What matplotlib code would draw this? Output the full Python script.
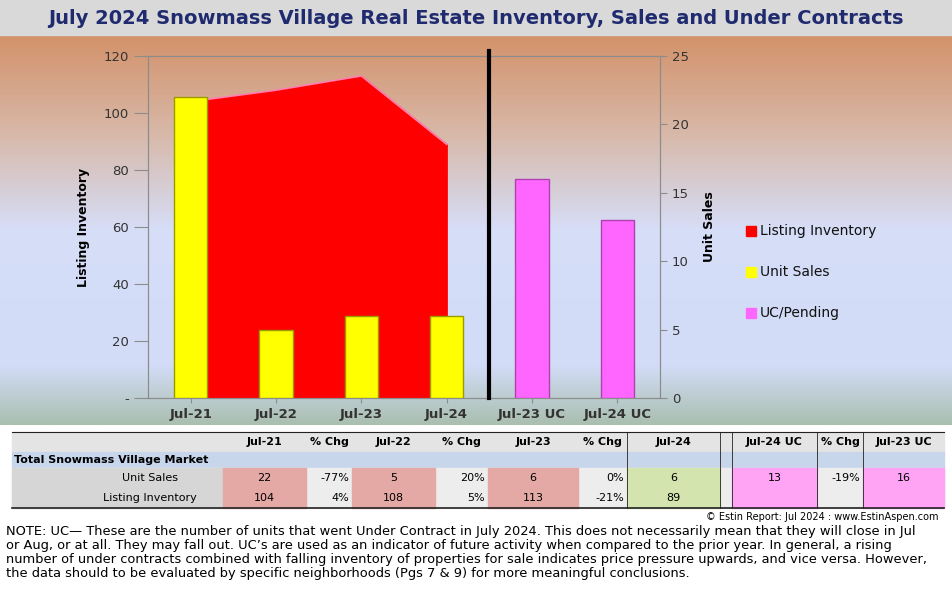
import matplotlib
matplotlib.use("Agg")
import matplotlib.pyplot as plt
import matplotlib.patches as mpatches
import numpy as np
from matplotlib.colors import LinearSegmentedColormap

# ── 데이터 ────────────────────────────────────────────────
categories = ["Jul-21", "Jul-22", "Jul-23", "Jul-24", "Jul-23 UC", "Jul-24 UC"]
inventory = [104, 108, 113, 89]
unit_sales = [22, 5, 6, 6]
uc_pending = [16, 13]

table_header = ["Jul-21", "% Chg", "Jul-22", "% Chg", "Jul-23", "% Chg", "Jul-24",
                "Jul-24 UC", "% Chg", "Jul-23 UC"]
row_sales = ["22", "-77%", "5", "20%", "6", "0%", "6", "13", "-19%", "16"]
row_inv = ["104", "4%", "108", "5%", "113", "-21%", "89", "", "", ""]

NOTE = ("NOTE: UC\u2014 These are the number of units that went Under Contract in July 2024. This does not necessarily mean that they will close in Jul\n"
        "or Aug, or at all. They may fall out. UC\u2019s are used as an indicator of future activity when compared to the prior year. In general, a rising\n"
        "number of under contracts combined with falling inventory of properties for sale indicates price pressure upwards, and vice versa. However,\n"
        "the data should to be evaluated by specific neighborhoods (Pgs 7 & 9) for more meaningful conclusions.")

W, H = 952, 591
fig = plt.figure(figsize=(W / 100, H / 100), dpi=100)
bg = fig.add_axes([0, 0, 1, 1])
bg.set_xlim(0, W)
bg.set_ylim(H, 0)
bg.axis("off")

# 배경 그라데이션
cmap = LinearSegmentedColormap.from_list(
    "bg", [(0, "#D3926A"), (0.25, "#D8B8A8"), (0.5, "#D6DEF8"), (0.85, "#D2DCF6"), (1.0, "#A9BFAF")])
grad = np.linspace(0, 1, 256).reshape(-1, 1)
bg.imshow(grad, cmap=cmap, aspect="auto", extent=[0, W, 425, 35], zorder=0)

# 제목 밴드
bg.add_patch(mpatches.Rectangle((0, 0), W, 35, color="#D9D9D9", zorder=1))
bg.text(W / 2, 18, "July 2024 Snowmass Village Real Estate Inventory, Sales and Under Contracts",
        ha="center", va="center", fontsize=14, fontweight="bold", color="#1F2B6E", zorder=2)

# ── 차트 ─────────────────────────────────────────────────
ax = fig.add_axes([148 / W, (H - 398) / H, 512 / W, 342 / H])
ax.patch.set_alpha(0)
x = np.arange(len(categories))
ax.fill_between(x[:len(inventory)], inventory, color="#FF0000", zorder=2)
ax.plot(x[:len(inventory)], inventory, color="#FF80B0", lw=1.2, zorder=3)
ax.set_xlim(-0.5, len(categories) - 0.5)
ax.set_ylim(0, 120)
ax.set_yticks(range(0, 121, 20))
ax.set_yticklabels(["-"] + [str(v) for v in range(20, 121, 20)])
ax.set_xticks(x)
ax.set_xticklabels(categories, fontweight="bold")
ax.set_ylabel("Listing Inventory", fontweight="bold", fontsize=9, labelpad=10)
ax.tick_params(axis="y", length=10)

ax2 = ax.twinx()
ax2.bar(x[:len(unit_sales)], unit_sales, width=0.39, color="#FFFF00",
        edgecolor="#9A9A00", lw=1, zorder=4)
ax2.bar(x[len(unit_sales):], uc_pending, width=0.39, color="#FF66FF",
        edgecolor="#B040B0", lw=1, zorder=4)
ax2.set_ylim(0, 25)
ax2.set_yticks(range(0, 26, 5))
ax2.set_ylabel("Unit Sales", fontweight="bold", fontsize=9, labelpad=10)
ax2.axvline(3.5, ymin=0, ymax=1.015, color="black", lw=3, clip_on=False, zorder=5)

for a in (ax, ax2):
    a.tick_params(labelsize=9.5, colors="#333333")
    a.tick_params(axis="both", color="#8C8C8C")
    for s in a.spines.values():
        s.set_color("#8C8C8C")
ax.tick_params(axis="y", length=10)
ax2.tick_params(axis="y", length=5)

# 범례
legend_items = [("Listing Inventory", "#FF0000"), ("Unit Sales", "#FFFF00"), ("UC/Pending", "#FF66FF")]
for i, (lbl, col) in enumerate(legend_items):
    y = 231 + i * 41
    bg.add_patch(mpatches.Rectangle((746, y - 5), 10, 10, color=col, zorder=3))
    bg.text(760, y, lbl, va="center", fontsize=10, color="#111111", zorder=3)

# ── 표 ───────────────────────────────────────────────────
col_edges = [12, 223, 306, 352, 435, 488, 578, 627, 720, 732, 817, 863, 944]
data_cols = [1, 2, 3, 4, 5, 6, 7, 9, 10, 11]
fs = 8

bg.add_patch(mpatches.Rectangle((12, 432), 932, 20, color="#E4E4E4", zorder=1))
bg.add_patch(mpatches.Rectangle((12, 452), 932, 16, color="#C8D6EC", zorder=1))
bg.add_patch(mpatches.Rectangle((12, 468), 932, 40, color="#EDEDED", zorder=1))
bg.add_patch(mpatches.Rectangle((12, 468), 211, 40, color="#D6D6D6", zorder=1))

fills = {1: "#E4A9A5", 3: "#E4A9A5", 5: "#E4A9A5", 7: "#D4E4AE",
         9: "#FFA4F4", 11: "#FFA4F4"}
for ci, tv, sv, iv in zip(data_cols, table_header, row_sales, row_inv):
    x0, x1 = col_edges[ci], col_edges[ci + 1]
    cx = (x0 + x1) / 2
    if ci in fills:
        bg.add_patch(mpatches.Rectangle((x0, 468), x1 - x0, 40, color=fills[ci], zorder=1.5))
    bg.text(cx, 442, tv, ha="center", va="center", fontsize=fs, fontweight="bold", zorder=3)
    if ci in fills:
        tx, ha = cx, "center"
    else:
        tx, ha = x1 - 3, "right"
    bg.text(tx, 478, sv, ha=ha, va="center", fontsize=fs, zorder=3)
    bg.text(tx, 498, iv, ha=ha, va="center", fontsize=fs, zorder=3)

for xe in (627, 720, 732, 817, 863):
    bg.plot([xe, xe], [432, 508], color="#222222", lw=0.6, zorder=2)
bg.plot([12, 944], [432, 432], color="#222222", lw=0.8, zorder=2)
bg.plot([12, 944], [508, 508], color="#222222", lw=1.2, zorder=2)

bg.text(14, 460, "Total Snowmass Village Market", va="center", fontsize=fs, fontweight="bold", zorder=3)
bg.text(150, 478, "Unit Sales", ha="center", va="center", fontsize=fs, zorder=3)
bg.text(150, 498, "Listing Inventory", ha="center", va="center", fontsize=fs, zorder=3)
bg.text(938, 517, "\u00a9 Estin Report: Jul 2024 : www.EstinAspen.com",
        ha="right", va="center", fontsize=7, zorder=3)

bg.text(6, 525, NOTE, va="top", ha="left", fontsize=9.4, linespacing=1.1, zorder=3)

fig.savefig("out.png", dpi=100)
